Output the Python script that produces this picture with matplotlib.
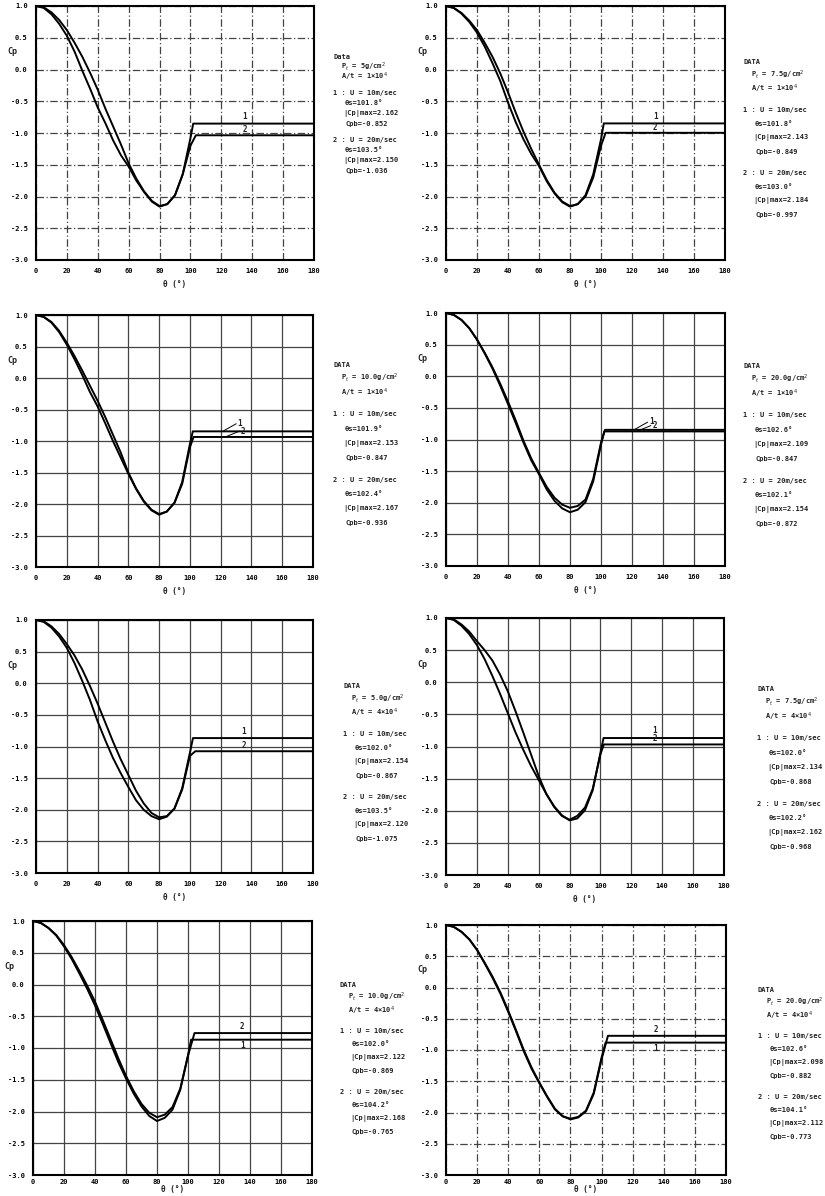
import matplotlib.pyplot as plt
import numpy as np

# polar angle grid (deg) used for the attached-flow part of every curve
theta = [0, 5, 10, 15, 20, 25, 30, 35, 40, 45, 50, 55, 60, 65, 70, 75, 80, 85, 90, 95, 100]

# Cp, curve 1 (U=10m/sec) and curve 2 (U=20m/sec)
p1_c1 = [1.0, 0.97, 0.87, 0.72, 0.53, 0.28, -0.02, -0.30, -0.60, -0.85, -1.12, -1.35, -1.53, -1.75, -1.93, -2.08, -2.16, -2.12, -1.98, -1.65, -1.08]
p1_c2 = [1.0, 0.98, 0.90, 0.78, 0.62, 0.42, 0.20, -0.05, -0.32, -0.62, -0.90, -1.18, -1.48, -1.72, -1.92, -2.07, -2.15, -2.12, -1.98, -1.65, -1.20]
p2_c1 = [1.0, 0.97, 0.88, 0.75, 0.58, 0.36, 0.10, -0.18, -0.52, -0.83, -1.10, -1.33, -1.52, -1.76, -1.95, -2.09, -2.16, -2.12, -1.98, -1.65, -1.10]
p2_c2 = [1.0, 0.97, 0.89, 0.77, 0.62, 0.42, 0.20, -0.06, -0.36, -0.68, -0.98, -1.25, -1.50, -1.74, -1.94, -2.08, -2.15, -2.12, -2.00, -1.70, -1.20]
p3_c1 = [1.0, 0.97, 0.88, 0.73, 0.53, 0.30, 0.05, -0.22, -0.45, -0.72, -1.00, -1.26, -1.52, -1.76, -1.96, -2.10, -2.17, -2.12, -1.98, -1.65, -1.05]
p3_c2 = [1.0, 0.97, 0.89, 0.75, 0.56, 0.35, 0.12, -0.12, -0.36, -0.62, -0.90, -1.18, -1.50, -1.75, -1.95, -2.09, -2.16, -2.12, -1.98, -1.68, -1.10]
p4_c1 = [1.0, 0.97, 0.89, 0.76, 0.58, 0.37, 0.14, -0.12, -0.40, -0.70, -1.02, -1.30, -1.53, -1.75, -1.92, -2.03, -2.08, -2.05, -1.95, -1.62, -1.05]
p4_c2 = [1.0, 0.97, 0.89, 0.76, 0.58, 0.36, 0.12, -0.15, -0.44, -0.74, -1.05, -1.33, -1.55, -1.79, -1.97, -2.09, -2.15, -2.11, -1.99, -1.66, -1.08]
p5_c1 = [1.0, 0.97, 0.88, 0.74, 0.56, 0.32, 0.04, -0.26, -0.60, -0.90, -1.18, -1.42, -1.64, -1.85, -2.00, -2.10, -2.15, -2.11, -1.98, -1.66, -1.10]
p5_c2 = [1.0, 0.98, 0.90, 0.78, 0.62, 0.44, 0.22, -0.04, -0.32, -0.62, -0.92, -1.20, -1.45, -1.70, -1.90, -2.05, -2.12, -2.10, -1.98, -1.68, -1.15]
p6_c1 = [1.0, 0.97, 0.88, 0.75, 0.58, 0.36, 0.10, -0.18, -0.48, -0.78, -1.05, -1.30, -1.52, -1.74, -1.93, -2.07, -2.15, -2.12, -1.99, -1.68, -1.10]
p6_c2 = [1.0, 0.98, 0.90, 0.79, 0.64, 0.50, 0.34, 0.12, -0.14, -0.45, -0.78, -1.12, -1.46, -1.74, -1.94, -2.08, -2.14, -2.08, -1.95, -1.66, -1.12]
p7_c1 = [1.0, 0.97, 0.89, 0.77, 0.60, 0.40, 0.17, -0.07, -0.33, -0.62, -0.92, -1.22, -1.48, -1.72, -1.92, -2.07, -2.15, -2.10, -1.97, -1.66, -1.12]
p7_c2 = [1.0, 0.97, 0.89, 0.78, 0.62, 0.43, 0.21, -0.02, -0.27, -0.56, -0.86, -1.16, -1.44, -1.68, -1.88, -2.02, -2.09, -2.05, -1.93, -1.64, -1.12]
p8_c1 = [1.0, 0.97, 0.89, 0.77, 0.60, 0.38, 0.15, -0.10, -0.39, -0.70, -1.02, -1.30, -1.53, -1.75, -1.95, -2.06, -2.10, -2.07, -1.97, -1.68, -1.12]
p8_c2 = [1.0, 0.97, 0.89, 0.77, 0.60, 0.39, 0.17, -0.08, -0.37, -0.68, -1.00, -1.28, -1.52, -1.74, -1.94, -2.06, -2.11, -2.08, -1.98, -1.70, -1.15]

# separation angle and base pressure (flat part) for each curve
theta_s1 = [101.8, 101.8, 101.9, 102.6, 102.0, 102.0, 102.0, 102.6]
theta_s2 = [103.5, 103.0, 102.4, 102.1, 103.5, 102.2, 104.2, 104.1]
cpb1 = [-0.852, -0.849, -0.847, -0.847, -0.867, -0.868, -0.869, -0.882]
cpb2 = [-1.036, -0.997, -0.936, -0.872, -1.075, -0.968, -0.765, -0.773]

# text block values
pt_text = ["5g/cm$^2$", "7.5g/cm$^2$", "10.0g/cm$^2$", "20.0g/cm$^2$",
           "5.0g/cm$^2$", "7.5g/cm$^2$", "10.0g/cm$^2$", "20.0g/cm$^2$"]
at_text = ["1×10$^4$"] * 4 + ["4×10$^4$"] * 4
cpmax1 = ["2.162", "2.143", "2.153", "2.109", "2.154", "2.134", "2.122", "2.098"]
cpmax2 = ["2.150", "2.184", "2.167", "2.154", "2.120", "2.162", "2.168", "2.112"]
head = ["Data", "DATA", "DATA", "DATA", "DATA", "DATA", "DATA", "DATA"]

curves1 = [p1_c1, p2_c1, p3_c1, p4_c1, p5_c1, p6_c1, p7_c1, p8_c1]
curves2 = [p1_c2, p2_c2, p3_c2, p4_c2, p5_c2, p6_c2, p7_c2, p8_c2]

W, H = 825, 1196
fig = plt.figure(figsize=(W / 100, H / 100), dpi=100)
fig.patch.set_facecolor('white')

# axes boxes in pixels: left, top, right, bottom
boxes = [(36, 6, 314, 260), (446, 6, 725, 260),
         (36, 315, 313, 567), (446, 313, 725, 566),
         (36, 620, 313, 873), (446, 618, 724, 875),
         (33, 921, 312, 1175), (446, 925, 726, 1175)]
# text block: left x, top y, line step
tpos = [(333, 57, 10.5), (743, 62, 14),
        (333, 365, 14.5), (743, 366, 14.5),
        (343, 686, 14), (757, 689, 14.5),
        (340, 985, 13.5), (758, 990, 13.5)]
dashed_grid = [True, True, False, False, False, False, False, True]

font = dict(family='DejaVu Sans Mono', fontweight='bold', color='#222222')

for i in range(8):
    l, t, r, b = boxes[i]
    ax = fig.add_axes([l / W, 1 - b / H, (r - l) / W, (b - t) / H])
    ls = (0, (6, 2, 1, 2)) if dashed_grid[i] else '-'
    ax.grid(True, color='#444444', linewidth=0.9, linestyle=ls)
    ax.set_axisbelow(True)

    x1 = theta + [theta_s1[i], 180]
    y1 = curves1[i] + [cpb1[i], cpb1[i]]
    x2 = theta + [theta_s2[i], 180]
    y2 = curves2[i] + [cpb2[i], cpb2[i]]
    ax.plot(x1, y1, color='black', linewidth=1.4)
    ax.plot(x2, y2, color='black', linewidth=1.4)

    # curve numbers
    if i in (2, 3):
        ax.plot([122, 130], [cpb1[i] + 0.01, cpb1[i] + 0.12], color='black', lw=0.7)
        ax.plot([124, 132], [cpb2[i] + 0.01, cpb2[i] + 0.09], color='black', lw=0.7)
        ax.text(131, cpb1[i] + 0.13, '1', fontsize=5.5, ha='left', va='center', **font)
        ax.text(133, cpb2[i] + 0.09, '2', fontsize=5.5, ha='left', va='center', **font)
    elif cpb1[i] > cpb2[i]:
        ax.text(135, cpb1[i] + 0.04, '1', fontsize=5.5, ha='center', va='bottom', **font)
        ax.text(135, cpb2[i] + 0.02, '2', fontsize=5.5, ha='center', va='bottom', **font)
    else:
        ax.text(135, cpb2[i] + 0.03, '2', fontsize=5.5, ha='center', va='bottom', **font)
        ax.text(135, cpb1[i] - 0.02, '1', fontsize=5.5, ha='center', va='top', **font)

    ax.set_xlim(0, 180)
    ax.set_ylim(-3.0, 1.0)
    ax.set_xticks(np.arange(0, 181, 20))
    ax.set_yticks(np.arange(-3.0, 1.01, 0.5))
    ax.set_yticklabels(['%.1f' % v for v in np.arange(-3.0, 1.01, 0.5)])
    ax.tick_params(length=0, labelsize=5, pad=6)
    for lab in ax.get_xticklabels() + ax.get_yticklabels():
        lab.set_family('DejaVu Sans Mono')
        lab.set_fontweight('bold')
    for sp in ax.spines.values():
        sp.set_linewidth(1.5)
    ax.set_xlabel('θ (°)', fontsize=5.5, labelpad=(0 if i >= 6 else 4), **font)
    if i >= 6:
        ax.tick_params(axis='x', pad=3)
    ax.text(-0.085, 0.82, 'Cp', transform=ax.transAxes, fontsize=6,
            ha='center', va='center', **font)

    # data text block
    tx, ty, st = tpos[i]
    lines = [(0, head[i]),
             (8, 'P$_t$ = ' + pt_text[i]),
             (8, 'A/t = ' + at_text[i]),
             None,
             (0, '1 : U = 10m/sec'),
             (12, 'θs=%.1f°' % theta_s1[i]),
             (10, '|Cp|max=' + cpmax1[i]),
             (12, 'Cpb=%.3f' % cpb1[i]),
             None,
             (0, '2 : U = 20m/sec'),
             (12, 'θs=%.1f°' % theta_s2[i]),
             (10, '|Cp|max=' + cpmax2[i]),
             (12, 'Cpb=%.3f' % cpb2[i])]
    yy = ty
    for ln in lines:
        if ln is None:
            yy += st * 0.5
            continue
        dx, s = ln
        fig.text((tx + dx) / W, 1 - yy / H, s, fontsize=5, ha='left', va='center', **font)
        yy += st if ln[1] != head[i] else st * 0.9

fig.savefig('out.png', dpi=100, facecolor='white')
